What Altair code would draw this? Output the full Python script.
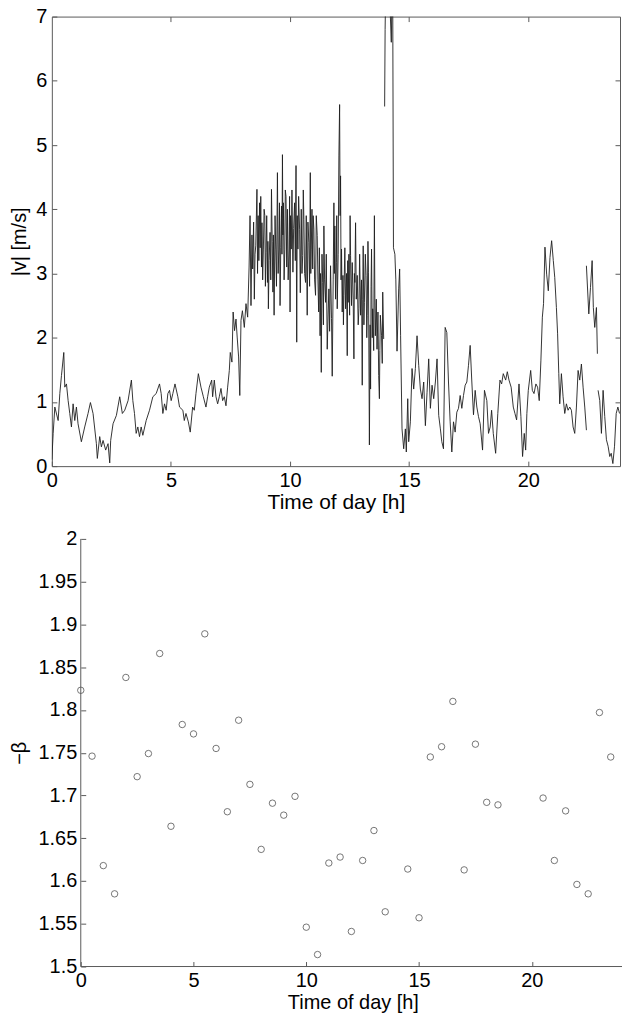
import altair as alt
import pandas as pd

# ---------------- top panel: |v| vs time of day ----------
night = [(0, 0.10), (0.056, 0.51), (0.126, 0.92), (0.265, 0.71), (0.335, 1.13), (0.404, 1.41),
         (0.502, 1.77), (0.544, 1.23), (0.614, 1.28), (0.684, 1.02), (0.753, 0.82), (0.823, 0.61),
         (0.893, 0.97), (0.963, 0.71), (1.032, 0.92), (1.10, 0.66), (1.24, 0.38), (1.38, 0.61),
         (1.52, 0.82), (1.62, 0.99), (1.73, 0.82), (1.87, 0.35), (1.91, 0.12), (2.01, 0.46),
         (2.08, 0.30), (2.15, 0.40), (2.26, 0.25), (2.36, 0.35), (2.43, 0.05), (2.47, 0.40),
         (2.57, 0.66), (2.71, 0.79), (2.85, 1.08), (2.96, 0.82), (3.06, 0.87), (3.20, 1.02),
         (3.34, 1.34), (3.40, 1.02), (3.47, 0.82), (3.54, 0.51), (3.61, 0.61), (3.68, 0.46),
         (3.75, 0.61), (3.82, 0.48), (3.96, 0.71), (4.10, 0.87), (4.24, 1.08), (4.38, 1.13),
         (4.52, 1.28), (4.59, 1.13), (4.66, 0.82), (4.73, 0.97), (4.80, 0.87), (4.87, 1.13),
         (4.94, 1.18), (5.01, 1.02), (5.08, 1.13), (5.17, 1.28), (5.29, 1.08), (5.36, 0.92),
         (5.50, 0.87), (5.56, 0.71), (5.63, 0.82), (5.73, 0.69), (5.81, 0.53), (5.91, 0.92),
         (5.98, 0.87), (6.05, 1.13), (6.15, 1.44), (6.26, 1.23), (6.36, 1.08), (6.47, 0.92),
         (6.54, 1.08), (6.61, 1.23), (6.71, 1.34), (6.75, 1.08), (6.82, 1.34), (6.89, 1.08),
         (6.96, 0.97), (7.03, 1.08), (7.10, 1.21), (7.17, 1.02), (7.24, 1.08), (7.31, 0.94),
         (7.38, 1.23), (7.45, 1.49), (7.49, 1.77), (7.56, 1.62)]
morning = [(7.61, 2.40), (7.67, 2.11), (7.73, 2.29), (7.78, 2.01), (7.84, 1.70), (7.89, 1.10),
           (7.94, 2.27), (8.00, 2.42), (8.08, 2.16), (8.15, 2.53), (8.22, 2.32),
           (8.28, 3.10), (8.32, 3.90), (8.36, 2.50), (8.40, 3.60), (8.43, 3.07), (8.47, 3.80),
           (8.50, 2.60), (8.53, 3.30), (8.56, 3.43), (8.61, 4.31), (8.635, 3.00), (8.66, 3.90),
           (8.69, 3.20), (8.72, 4.10), (8.745, 3.40), (8.77, 4.20), (8.80, 3.10), (8.82, 3.79),
           (8.85, 2.90), (8.88, 3.38), (8.91, 4.00), (8.94, 3.90), (8.965, 2.80), (8.99, 3.33),
           (9.02, 3.90), (9.05, 2.86), (9.07, 3.50), (9.09, 2.45), (9.12, 3.20), (9.16, 3.64),
           (9.19, 2.90), (9.22, 4.31), (9.25, 3.50), (9.28, 2.71), (9.30, 3.60), (9.33, 2.35),
           (9.37, 3.90), (9.40, 3.38), (9.43, 2.80), (9.47, 4.57), (9.50, 3.00), (9.53, 3.38),
           (9.555, 4.10), (9.58, 2.50), (9.61, 3.40), (9.64, 4.05), (9.66, 3.30), (9.68, 4.85),
           (9.70, 3.60), (9.72, 4.10), (9.75, 2.90), (9.78, 3.38), (9.80, 4.30), (9.83, 4.20),
           (9.86, 3.10), (9.89, 4.00), (9.92, 2.90), (9.96, 3.38), (9.98, 4.20), (10.00, 2.40),
           (10.02, 3.90), (10.05, 3.38), (10.08, 4.30), (10.12, 3.02), (10.15, 3.70), (10.19, 4.10),
           (10.22, 3.20), (10.25, 4.68), (10.28, 1.93), (10.30, 3.90), (10.33, 3.38), (10.36, 4.20),
           (10.40, 3.69), (10.43, 2.70), (10.47, 4.00), (10.50, 3.00), (10.53, 3.28), (10.555, 4.30),
           (10.58, 3.84), (10.61, 3.00), (10.65, 2.86), (10.68, 3.90), (10.72, 2.35), (10.75, 3.80),
           (10.79, 3.48), (10.82, 2.80), (10.85, 4.57), (10.87, 3.00), (10.89, 3.38), (10.92, 4.00),
           (10.95, 3.07), (10.97, 3.90), (11.00, 3.69), (11.03, 2.90), (11.07, 2.66), (11.10, 3.90),
           (11.14, 3.59), (11.17, 2.90), (11.20, 2.40), (11.23, 3.40), (11.26, 2.03), (11.28, 3.00),
           (11.31, 1.46), (11.34, 3.30), (11.37, 2.86), (11.40, 2.20), (11.42, 3.74), (11.45, 2.90),
           (11.49, 2.55), (11.52, 3.30), (11.56, 1.82), (11.60, 2.40), (11.63, 2.76), (11.66, 2.10),
           (11.70, 3.12), (11.74, 2.30), (11.77, 1.40)]
noon = [(11.81, 2.90), (11.84, 4.10), (11.86, 3.00), (11.88, 3.74), (11.91, 2.60), (11.94, 3.17),
        (11.96, 3.90), (11.98, 2.45), (12.02, 3.30), (12.05, 4.83), (12.08, 5.63), (12.10, 3.90),
        (12.12, 4.52), (12.14, 2.90), (12.16, 3.38), (12.19, 2.40), (12.22, 2.97), (12.24, 2.20),
        (12.26, 2.66), (12.30, 3.40), (12.33, 2.45), (12.37, 3.00), (12.40, 1.72), (12.42, 3.20),
        (12.44, 2.55), (12.47, 3.30), (12.50, 2.35), (12.52, 3.90), (12.54, 3.28), (12.58, 2.50),
        (12.61, 3.17), (12.65, 2.60), (12.68, 1.67), (12.70, 3.00), (12.72, 2.86), (12.75, 3.79),
        (12.78, 2.60), (12.82, 2.97), (12.86, 2.20), (12.89, 2.45), (12.92, 3.30), (12.96, 2.35),
        (13.00, 2.90), (13.03, 1.26), (13.05, 2.60), (13.07, 3.43), (13.10, 2.20), (13.12, 2.55),
        (13.16, 3.30), (13.19, 2.97), (13.22, 2.00), (13.24, 2.35), (13.27, 3.50), (13.29, 3.02),
        (13.33, 0.33), (13.36, 2.20), (13.38, 1.20), (13.40, 2.80), (13.42, 3.38), (13.45, 2.00),
        (13.47, 2.45), (13.51, 1.80), (13.54, 3.90), (13.56, 2.60), (13.58, 2.03), (13.62, 2.60),
        (13.65, 1.82), (13.69, 2.40), (13.72, 1.41), (13.75, 1.05), (13.77, 1.80), (13.79, 2.35),
        (13.84, 2.03), (13.87, 1.60), (13.89, 2.71), (13.93, 1.98)]
afternoon = [(13.97, 5.60), (13.99, 6.80), (14.02, 7.60), (14.10, 7.90), (14.18, 7.30), (14.22, 6.90),
             (14.25, 6.60), (14.28, 7.40), (14.31, 7.20), (14.34, 3.40), (14.40, 3.30), (14.44, 2.90),
             (14.49, 1.79), (14.56, 2.76), (14.60, 3.07), (14.64, 2.03), (14.70, 0.58), (14.77, 0.27),
             (14.84, 0.58), (14.88, 0.22), (14.94, 1.05), (14.98, 0.38), (15.05, 0.69), (15.12, 1.52),
             (15.19, 1.20), (15.26, 1.52), (15.33, 2.03), (15.40, 1.57), (15.47, 1.20), (15.54, 1.05),
             (15.61, 1.31), (15.68, 0.63), (15.75, 1.15), (15.82, 1.67), (15.89, 0.90), (15.96, 1.26),
             (16.03, 1.05), (16.10, 1.31), (16.17, 1.67), (16.24, 0.79), (16.31, 0.58), (16.37, 0.38),
             (16.44, 0.27), (16.51, 2.16), (16.58, 2.08), (16.65, 1.31), (16.72, 0.69), (16.79, 0.22),
             (16.86, 0.69), (16.93, 0.53), (17.00, 0.84), (17.07, 0.90), (17.14, 1.10), (17.21, 0.90),
             (17.28, 1.10), (17.35, 1.26), (17.42, 1.31), (17.49, 1.57), (17.56, 1.88), (17.63, 1.31),
             (17.70, 0.80), (17.77, 1.18), (17.84, 0.92), (17.91, 0.77), (17.98, 0.66), (18.08, 0.25)]
evening = [(18.16, 1.18), (18.26, 1.02), (18.33, 0.51), (18.40, 0.61), (18.46, 0.87), (18.53, 0.51),
           (18.63, 0.20), (18.72, 0.82), (18.81, 1.34), (18.88, 1.28), (18.95, 1.44), (19.05, 1.34),
           (19.12, 1.47), (19.19, 1.34), (19.28, 1.23), (19.37, 0.92), (19.44, 0.82), (19.51, 0.72),
           (19.61, 1.28), (19.69, 0.77), (19.76, 0.15), (19.83, 0.51), (19.89, 0.25), (19.94, 0.82),
           (20.00, 1.18), (20.10, 1.49), (20.17, 1.18), (20.24, 1.13), (20.32, 1.28), (20.39, 1.23),
           (20.46, 1.02), (20.53, 1.65), (20.59, 2.32), (20.64, 2.53), (20.70, 3.41), (20.77, 2.99),
           (20.84, 2.73), (20.91, 3.25), (20.98, 3.51), (21.05, 3.20), (21.11, 2.94), (21.18, 2.47),
           (21.23, 2.06), (21.28, 1.44), (21.32, 0.97), (21.39, 1.44), (21.46, 1.08), (21.53, 0.82),
           (21.60, 0.97), (21.67, 0.87), (21.74, 0.92), (21.81, 0.87), (21.88, 0.61), (21.95, 0.51),
           (22.02, 0.92), (22.09, 1.49), (22.16, 1.34), (22.23, 1.59), (22.30, 1.23), (22.37, 0.92),
           (22.44, 0.56)]
late_burst = [(22.44, 3.12), (22.54, 2.37), (22.61, 2.78), (22.68, 3.20), (22.73, 2.47), (22.79, 2.16),
              (22.86, 2.47), (22.90, 1.75)]
late_night = [(22.93, 1.18), (23.00, 1.02), (23.07, 0.51), (23.14, 1.18), (23.21, 0.77), (23.28, 0.41),
              (23.35, 0.31), (23.42, 0.15), (23.48, 0.20), (23.55, 0.04), (23.62, 0.31), (23.69, 0.82),
              (23.76, 0.92), (23.83, 0.82)]

segments = [("a", night + morning + noon), ("b", afternoon + evening),
            ("c", late_burst), ("d", late_night)]

# ---------------- bottom panel: -beta every half hour -----------------------
beta_t = [0, 0.5, 1, 1.5, 2, 2.5, 3, 3.5, 4, 4.5, 5, 5.5, 6, 6.5, 7, 7.5, 8, 8.5, 9, 9.5,
          10, 10.5, 11, 11.5, 12, 12.5, 13, 13.5, 14.5, 15, 15.5, 16, 16.5, 17, 17.5, 18, 18.5,
          20.5, 21, 21.5, 22, 22.5, 23, 23.5]
beta_v = [1.823, 1.746, 1.618, 1.585, 1.838, 1.722, 1.749, 1.866, 1.664, 1.783,
          1.772, 1.889, 1.755, 1.681, 1.788, 1.713, 1.637, 1.691, 1.677, 1.699,
          1.546, 1.514, 1.621, 1.628, 1.541, 1.624, 1.659, 1.564,
          1.614, 1.557, 1.745, 1.757, 1.810, 1.613, 1.760, 1.692, 1.689,
          1.697, 1.624, 1.682, 1.596, 1.585, 1.797, 1.745]

x_ticks = [0, 5, 10, 15, 20]
v_ticks = [0, 1, 2, 3, 4, 5, 6, 7]
b_ticks = [1.5, 1.55, 1.6, 1.65, 1.7, 1.75, 1.8, 1.85, 1.9, 1.95, 2.0]

rows = []
for name, pts in segments:
    for t, v in pts:
        rows.append({"t": t, "v": v, "seg": name})
line_df = pd.DataFrame(rows)
beta_df = pd.DataFrame({"t": beta_t, "b": beta_v})

FONT = "Liberation Sans"
AX = "#5a5a5a"

common_axis = dict(grid=False, labelFont=FONT, labelFontSize=20, labelColor="black",
                   titleFont=FONT, titleFontWeight="normal", titleColor="black",
                   tickColor=AX, tickWidth=1, tickSize=5, domain=False, labelFlush=False)

# ---------- top ----------
xs_top = alt.Scale(domain=[0, 23.85], nice=False, zero=False)
ys_top = alt.Scale(domain=[0, 7], nice=False, zero=False)

top_line = alt.Chart(line_df).mark_line(color="#1e1e1e", strokeWidth=0.9, clip=True).encode(
    x=alt.X("t:Q", scale=xs_top,
            axis=alt.Axis(values=x_ticks, title="Time of day [h]", titleFontSize=21,
                          offset=-5, labelPadding=4, titlePadding=2, **common_axis)),
    y=alt.Y("v:Q", scale=ys_top,
            axis=alt.Axis(values=v_ticks, title="|v| [m/s]", titleFontSize=20,
                          offset=-5, labelPadding=5, titlePadding=6, **common_axis)),
    detail="seg:N",
)
ghost_df = pd.DataFrame({"t": [0.0], "v": [0.0]})
top_ghost = alt.Chart(ghost_df).mark_point(opacity=0, clip=True).encode(
    x=alt.X("t:Q", scale=xs_top,
            axis=alt.Axis(orient="top", values=[5, 10, 15, 20], labels=False, title=None,
                          offset=-5, **common_axis)),
    y=alt.Y("v:Q", scale=ys_top,
            axis=alt.Axis(orient="right", values=[1, 2, 3, 4, 5, 6], labels=False, title=None,
                          offset=-5, **common_axis)),
)
top = alt.layer(top_line, top_ghost).resolve_axis(x="independent", y="independent").properties(
    width=570, height=451, view=alt.ViewBackground(stroke=AX, strokeWidth=1))

# ---------- bottom ----------
xs_bot = alt.Scale(domain=[-1.283, 24], nice=False, zero=False)
ys_bot = alt.Scale(domain=[1.5, 2.0], nice=False, zero=False)

pts = alt.Chart(beta_df).mark_point(shape="circle", filled=False, size=42, color="#555555",
                                    strokeWidth=0.8, opacity=1).encode(
    x=alt.X("t:Q", scale=xs_bot,
            axis=alt.Axis(values=x_ticks, title="Time of day [h]", titleFontSize=20, titleX=302,
                          offset=-5, labelPadding=4, titlePadding=2, **common_axis)),
    y=alt.Y("b:Q", scale=ys_bot,
            axis=alt.Axis(values=b_ticks, format="~g", title="−β", titleFontSize=20,
                          offset=-34, labelPadding=4, titlePadding=8, **common_axis)),
)
axis_df = pd.DataFrame({"x0": [0.0], "x1": [24.0], "y0": [1.5], "y1": [2.0]})
y_line = alt.Chart(axis_df).mark_rule(color=AX, strokeWidth=1).encode(
    x=alt.X("x0:Q", scale=xs_bot), y=alt.Y("y0:Q", scale=ys_bot), y2="y1:Q")
x_line = alt.Chart(axis_df).mark_rule(color=AX, strokeWidth=1).encode(
    x=alt.X("x0:Q", scale=xs_bot), x2="x1:Q", y=alt.Y("y0:Q", scale=ys_bot))

bottom = alt.layer(y_line, x_line, pts).properties(
    width=572, height=429, view=alt.ViewBackground(strokeOpacity=0, strokeWidth=0))

chart = alt.vconcat(top, bottom, spacing=15).properties(
    padding={"left": 9, "top": 4, "right": 0, "bottom": 4}
).configure(background="white")

chart.save("out.html", embed_options={"renderer": "svg", "actions": False})
